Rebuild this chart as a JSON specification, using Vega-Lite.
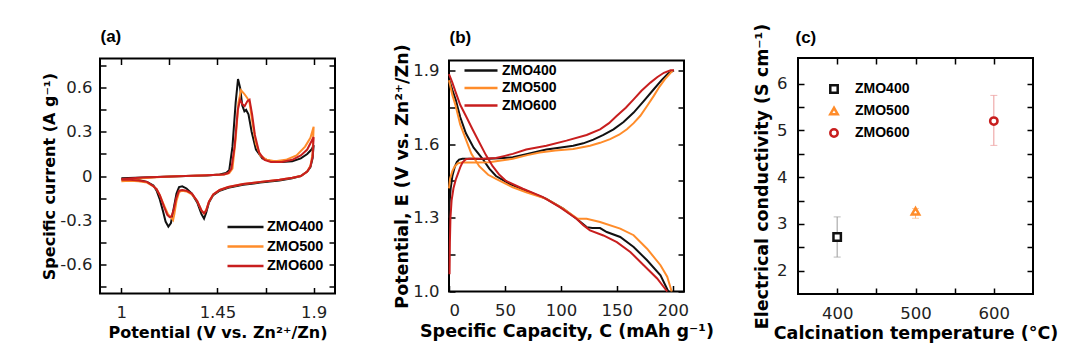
{
  "$schema": "https://vega.github.io/schema/vega-lite/v6.json",
  "padding": {"left": 40, "top": 22, "right": 5, "bottom": 5},
  "background": "white",
  "config": {
    "view": {"stroke": "black", "strokeWidth": 2},
    "axis": {"domain": false, "grid": false, "ticks": true, "tickColor": "black", "tickWidth": 1.5, "tickSize": -6, "labelFont": "DejaVu Sans", "labelFontSize": 16.5, "labelColor": "#222222", "titleFont": "DejaVu Sans", "titleFontSize": 17.5, "titleFontWeight": "bold", "titleColor": "black"},
    "legend": {"labelFont": "Liberation Sans", "labelFontWeight": "bold", "labelColor": "black", "title": null, "padding": 0}
  },
  "resolve": {"scale": {"color": "independent", "shape": "independent"}, "legend": {"color": "independent", "shape": "independent"}},
  "hconcat": [
    {
      "width": 235, "height": 235,
      "data": {"name": "cv"},
      "layer": [
        {
          "mark": {"type": "line", "strokeWidth": 2},
          "encoding": {
            "x": {"field": "x", "type": "quantitative", "scale": {"domain": [0.9, 2.0], "nice": false, "zero": false},
              "axis": {"orient": "bottom", "tickSize": -6, "values": [1, 1.225, 1.45, 1.675, 1.9], "format": ".2~f", "labelExpr": "indexof([1.225,1.675],datum.value)>=0 ? '' : datum.label", "labelPadding": 17, "title": "Potential (V vs. Zn²⁺/Zn)", "titleFontSize": 16, "titlePadding": 3}},
            "y": {"field": "y", "type": "quantitative", "scale": {"domain": [-0.8, 0.8], "nice": false},
              "axis": {"orient": "left", "tickSize": -6, "values": [-0.75, -0.6, -0.45, -0.3, -0.15, 0, 0.15, 0.3, 0.45, 0.6, 0.75], "format": ".1~f", "labelExpr": "indexof([-0.75,-0.45,-0.15,0.15,0.45,0.75],datum.value)>=0 ? '' : replace(datum.label, '−', '-')", "labelPadding": 14, "title": "Specific current (A g⁻¹)", "titleFontSize": 16, "titlePadding": 2}},
            "color": {"field": "s", "type": "nominal", "scale": {"domain": ["ZMO400", "ZMO500", "ZMO600"], "range": ["#111111", "#FF8C2A", "#C81E1E"]},
              "legend": {"orient": "none", "legendX": 138, "legendY": 161, "symbolType": "M-3,0H3", "symbolSize": 144, "symbolStrokeWidth": 2.5, "labelFontSize": 14.5, "labelOffset": 14, "rowPadding": 4.5}},
            "order": {"field": "i", "type": "quantitative"}
          }
        },
        {
          "mark": {"type": "line", "opacity": 0},
          "encoding": {
            "x": {"field": "x", "type": "quantitative", "axis": {"orient": "top", "tickSize": -6, "values": [1, 1.225, 1.45, 1.675, 1.9], "labels": false, "title": "(a)", "titleFont": "Liberation Sans", "titleFontSize": 17, "titleFontWeight": "bold", "titleAnchor": "start", "titleAlign": "left", "titlePadding": 12}},
            "y": {"field": "y", "type": "quantitative", "axis": {"orient": "right", "tickSize": -6, "values": [-0.75, -0.6, -0.45, -0.3, -0.15, 0, 0.15, 0.3, 0.45, 0.6, 0.75], "labels": false, "title": null}},
            "detail": {"field": "s"},
            "order": {"field": "i", "type": "quantitative"}
          }
        }
      ],
      "resolve": {"axis": {"x": "independent", "y": "independent"}}
    },
    {
      "width": 235, "height": 231,
      "data": {"name": "gcd"},
      "layer": [
        {
          "mark": {"type": "line", "strokeWidth": 2},
          "encoding": {
            "x": {"field": "x", "type": "quantitative", "scale": {"domain": [0, 210], "nice": false},
              "axis": {"orient": "bottom", "tickSize": -6, "values": [0, 50, 100, 150, 200], "labelPadding": 17, "title": "Specific Capacity, C (mAh g⁻¹)", "titlePadding": 3}},
            "y": {"field": "y", "type": "quantitative", "scale": {"domain": [1.0, 1.94], "nice": false, "zero": false},
              "axis": {"orient": "left", "tickSize": -6, "values": [1.0, 1.15, 1.3, 1.45, 1.6, 1.75, 1.9], "format": ".1f", "labelExpr": "indexof([1.15,1.45,1.75],datum.value)>=0 ? '' : datum.label", "labelPadding": 16, "title": "Potential, E (V vs. Zn²⁺/Zn)", "titlePadding": 1}},
            "color": {"field": "s", "type": "nominal", "scale": {"domain": ["ZMO400", "ZMO500", "ZMO600"], "range": ["#111111", "#FF8C2A", "#C81E1E"]},
              "legend": {"orient": "none", "legendX": 25, "legendY": 3, "symbolType": "M-3,0H3", "symbolSize": 121, "symbolStrokeWidth": 2.5, "labelFontSize": 14, "labelOffset": 14, "rowPadding": 3.5}},
            "detail": {"field": "g"},
            "order": {"field": "i", "type": "quantitative"}
          }
        },
        {
          "mark": {"type": "line", "opacity": 0},
          "encoding": {
            "x": {"field": "x", "type": "quantitative", "axis": {"orient": "top", "ticks": false, "labels": false, "title": "(b)", "titleFont": "Liberation Sans", "titleFontSize": 17, "titleFontWeight": "bold", "titleAnchor": "start", "titleAlign": "left", "titlePadding": 14}},
            "y": {"field": "y", "type": "quantitative", "axis": {"orient": "right", "tickSize": -6, "values": [1.0, 1.15, 1.3, 1.45, 1.6, 1.75, 1.9], "labels": false, "title": null}},
            "detail": {"field": "s"},
            "order": {"field": "i", "type": "quantitative"}
          }
        }
      ],
      "resolve": {"axis": {"x": "independent", "y": "independent"}}
    },
    {
      "width": 235, "height": 236,
      "data": {"name": "cond"},
      "layer": [
        {
          "transform": [{"filter": "datum.s == 'ZMO400'"}],
          "mark": {"type": "errorbar", "ticks": {"size": 7}, "color": "#9c9c9c", "thickness": 1},
          "encoding": {
            "x": {"field": "t", "type": "quantitative", "scale": {"domain": [350, 650], "nice": false, "zero": false},
              "axis": {"orient": "bottom", "tickSize": -6, "values": [400, 450, 500, 550, 600], "labelExpr": "indexof([450,550],datum.value)>=0 ? '' : datum.label", "labelPadding": 17, "title": "Calcination temperature (°C)", "titlePadding": 3}},
            "y": {"field": "lo", "type": "quantitative", "scale": {"domain": [1.5, 6.55], "nice": false, "zero": false},
              "axis": {"orient": "left", "tickSize": -6, "values": [2, 2.5, 3, 3.5, 4, 4.5, 5, 5.5, 6], "format": "~g", "labelExpr": "indexof([2.5,3.5,4.5,5.5],datum.value)>=0 ? '' : datum.label", "labelPadding": 17, "title": "Electrical conductivity (S cm⁻¹)", "titlePadding": 5}},
            "y2": {"field": "hi"}
          }
        },
        {
          "transform": [{"filter": "datum.s == 'ZMO500'"}],
          "mark": {"type": "errorbar", "ticks": {"size": 7}, "color": "#FDB985", "thickness": 1},
          "encoding": {
            "x": {"field": "t", "type": "quantitative", "axis": null},
            "y": {"field": "lo", "type": "quantitative", "axis": null},
            "y2": {"field": "hi"}
          }
        },
        {
          "transform": [{"filter": "datum.s == 'ZMO600'"}],
          "mark": {"type": "errorbar", "ticks": {"size": 7}, "color": "#EC9A9A", "thickness": 1},
          "encoding": {
            "x": {"field": "t", "type": "quantitative", "axis": null},
            "y": {"field": "lo", "type": "quantitative", "axis": null},
            "y2": {"field": "hi"}
          }
        },
        {
          "mark": {"type": "point", "filled": false, "fill": "white", "fillOpacity": 1, "strokeWidth": 2.5, "size": 55, "opacity": 1},
          "encoding": {
            "x": {"field": "t", "type": "quantitative", "axis": {"orient": "top", "tickSize": -6, "values": [400, 450, 500, 550, 600], "labels": false, "title": "(c)", "titleFont": "Liberation Sans", "titleFontSize": 17, "titleFontWeight": "bold", "titleAnchor": "start", "titleAlign": "left", "titlePadding": 11, "titleX": -3}},
            "y": {"field": "v", "type": "quantitative", "axis": {"orient": "right", "tickSize": -6, "values": [2, 2.5, 3, 3.5, 4, 4.5, 5, 5.5, 6], "labels": false, "title": null}},
            "color": {"field": "s", "type": "nominal", "scale": {"domain": ["ZMO400", "ZMO500", "ZMO600"], "range": ["#111111", "#FF8C2A", "#C81E1E"]}, "legend": {"orient": "none", "legendX": 29, "legendY": 24, "symbolSize": 55, "symbolStrokeWidth": 2.5, "labelFontSize": 14, "labelOffset": 14, "rowPadding": 4}},
            "shape": {"field": "s", "type": "nominal", "scale": {"domain": ["ZMO400", "ZMO500", "ZMO600"], "range": ["square", "triangle-up", "circle"]}, "legend": {"orient": "none", "legendX": 29, "legendY": 24, "symbolSize": 55, "symbolStrokeWidth": 2.5, "labelFontSize": 14, "labelOffset": 14, "rowPadding": 4}}
          }
        }
      ],
      "resolve": {"axis": {"x": "independent", "y": "independent"}}
    }
  ],
  "spacing": 114,
  "bounds": "flush",
  "center": true,
  "datasets": {
    "cond": [
      {"s": "ZMO400", "t": 400, "v": 2.72, "lo": 2.29, "hi": 3.15},
      {"s": "ZMO500", "t": 500, "v": 3.27, "lo": 3.12, "hi": 3.33},
      {"s": "ZMO600", "t": 600, "v": 5.2, "lo": 4.68, "hi": 5.75}
    ],
    "cv": [
      {"s":"ZMO400","i":0,"x":1.0,"y":-0.015},{"s":"ZMO400","i":1,"x":1.1,"y":-0.01},{"s":"ZMO400","i":2,"x":1.2,"y":-0.005},{"s":"ZMO400","i":3,"x":1.3,"y":0.0},{"s":"ZMO400","i":4,"x":1.4,"y":0.004},{"s":"ZMO400","i":5,"x":1.46,"y":0.01},{"s":"ZMO400","i":6,"x":1.49,"y":0.02},{"s":"ZMO400","i":7,"x":1.505,"y":0.04},{"s":"ZMO400","i":8,"x":1.52,"y":0.2},{"s":"ZMO400","i":9,"x":1.535,"y":0.5},{"s":"ZMO400","i":10,"x":1.546,"y":0.66},{"s":"ZMO400","i":11,"x":1.556,"y":0.6},{"s":"ZMO400","i":12,"x":1.566,"y":0.48},{"s":"ZMO400","i":13,"x":1.576,"y":0.44},{"s":"ZMO400","i":14,"x":1.584,"y":0.45},{"s":"ZMO400","i":15,"x":1.595,"y":0.42},{"s":"ZMO400","i":16,"x":1.61,"y":0.3},{"s":"ZMO400","i":17,"x":1.63,"y":0.18},{"s":"ZMO400","i":18,"x":1.66,"y":0.12},{"s":"ZMO400","i":19,"x":1.7,"y":0.1},{"s":"ZMO400","i":20,"x":1.75,"y":0.095},{"s":"ZMO400","i":21,"x":1.8,"y":0.1},{"s":"ZMO400","i":22,"x":1.84,"y":0.12},{"s":"ZMO400","i":23,"x":1.87,"y":0.15},{"s":"ZMO400","i":24,"x":1.89,"y":0.18},{"s":"ZMO400","i":25,"x":1.9,"y":0.21},
      {"s":"ZMO400","i":26,"x":1.895,"y":0.12},{"s":"ZMO400","i":27,"x":1.885,"y":0.06},{"s":"ZMO400","i":28,"x":1.87,"y":0.03},{"s":"ZMO400","i":29,"x":1.84,"y":0.0},{"s":"ZMO400","i":30,"x":1.8,"y":-0.015},{"s":"ZMO400","i":31,"x":1.74,"y":-0.03},{"s":"ZMO400","i":32,"x":1.65,"y":-0.045},{"s":"ZMO400","i":33,"x":1.57,"y":-0.06},{"s":"ZMO400","i":34,"x":1.5,"y":-0.08},{"s":"ZMO400","i":35,"x":1.46,"y":-0.1},{"s":"ZMO400","i":36,"x":1.43,"y":-0.13},{"s":"ZMO400","i":37,"x":1.41,"y":-0.18},{"s":"ZMO400","i":38,"x":1.397,"y":-0.25},{"s":"ZMO400","i":39,"x":1.387,"y":-0.29},{"s":"ZMO400","i":40,"x":1.375,"y":-0.26},{"s":"ZMO400","i":41,"x":1.355,"y":-0.18},{"s":"ZMO400","i":42,"x":1.33,"y":-0.12},{"s":"ZMO400","i":43,"x":1.305,"y":-0.085},{"s":"ZMO400","i":44,"x":1.285,"y":-0.07},{"s":"ZMO400","i":45,"x":1.27,"y":-0.075},{"s":"ZMO400","i":46,"x":1.258,"y":-0.12},{"s":"ZMO400","i":47,"x":1.245,"y":-0.22},{"s":"ZMO400","i":48,"x":1.232,"y":-0.32},{"s":"ZMO400","i":49,"x":1.22,"y":-0.345},{"s":"ZMO400","i":50,"x":1.207,"y":-0.31},{"s":"ZMO400","i":51,"x":1.195,"y":-0.24},{"s":"ZMO400","i":52,"x":1.18,"y":-0.16},{"s":"ZMO400","i":53,"x":1.165,"y":-0.1},{"s":"ZMO400","i":54,"x":1.15,"y":-0.065},{"s":"ZMO400","i":55,"x":1.12,"y":-0.04},{"s":"ZMO400","i":56,"x":1.08,"y":-0.028},{"s":"ZMO400","i":57,"x":1.04,"y":-0.022},{"s":"ZMO400","i":58,"x":1.0,"y":-0.02},
      {"s":"ZMO500","i":0,"x":1.0,"y":-0.03},{"s":"ZMO500","i":1,"x":1.1,"y":-0.015},{"s":"ZMO500","i":2,"x":1.2,"y":-0.005},{"s":"ZMO500","i":3,"x":1.3,"y":0.0},{"s":"ZMO500","i":4,"x":1.4,"y":0.005},{"s":"ZMO500","i":5,"x":1.48,"y":0.01},{"s":"ZMO500","i":6,"x":1.505,"y":0.02},{"s":"ZMO500","i":7,"x":1.52,"y":0.05},{"s":"ZMO500","i":8,"x":1.535,"y":0.25},{"s":"ZMO500","i":9,"x":1.548,"y":0.5},{"s":"ZMO500","i":10,"x":1.56,"y":0.585},{"s":"ZMO500","i":11,"x":1.575,"y":0.56},{"s":"ZMO500","i":12,"x":1.59,"y":0.53},{"s":"ZMO500","i":13,"x":1.6,"y":0.5},{"s":"ZMO500","i":14,"x":1.615,"y":0.35},{"s":"ZMO500","i":15,"x":1.63,"y":0.22},{"s":"ZMO500","i":16,"x":1.65,"y":0.14},{"s":"ZMO500","i":17,"x":1.68,"y":0.11},{"s":"ZMO500","i":18,"x":1.72,"y":0.1},{"s":"ZMO500","i":19,"x":1.77,"y":0.11},{"s":"ZMO500","i":20,"x":1.82,"y":0.14},{"s":"ZMO500","i":21,"x":1.86,"y":0.2},{"s":"ZMO500","i":22,"x":1.885,"y":0.26},{"s":"ZMO500","i":23,"x":1.9,"y":0.335},
      {"s":"ZMO500","i":24,"x":1.895,"y":0.15},{"s":"ZMO500","i":25,"x":1.885,"y":0.07},{"s":"ZMO500","i":26,"x":1.87,"y":0.03},{"s":"ZMO500","i":27,"x":1.84,"y":0.0},{"s":"ZMO500","i":28,"x":1.8,"y":-0.012},{"s":"ZMO500","i":29,"x":1.74,"y":-0.025},{"s":"ZMO500","i":30,"x":1.65,"y":-0.04},{"s":"ZMO500","i":31,"x":1.57,"y":-0.055},{"s":"ZMO500","i":32,"x":1.5,"y":-0.075},{"s":"ZMO500","i":33,"x":1.46,"y":-0.095},{"s":"ZMO500","i":34,"x":1.43,"y":-0.125},{"s":"ZMO500","i":35,"x":1.41,"y":-0.175},{"s":"ZMO500","i":36,"x":1.397,"y":-0.23},{"s":"ZMO500","i":37,"x":1.387,"y":-0.255},{"s":"ZMO500","i":38,"x":1.375,"y":-0.235},{"s":"ZMO500","i":39,"x":1.355,"y":-0.17},{"s":"ZMO500","i":40,"x":1.33,"y":-0.125},{"s":"ZMO500","i":41,"x":1.305,"y":-0.105},{"s":"ZMO500","i":42,"x":1.285,"y":-0.1},{"s":"ZMO500","i":43,"x":1.27,"y":-0.11},{"s":"ZMO500","i":44,"x":1.258,"y":-0.17},{"s":"ZMO500","i":45,"x":1.248,"y":-0.26},{"s":"ZMO500","i":46,"x":1.242,"y":-0.3},{"s":"ZMO500","i":47,"x":1.232,"y":-0.28},{"s":"ZMO500","i":48,"x":1.218,"y":-0.26},{"s":"ZMO500","i":49,"x":1.2,"y":-0.2},{"s":"ZMO500","i":50,"x":1.18,"y":-0.13},{"s":"ZMO500","i":51,"x":1.165,"y":-0.09},{"s":"ZMO500","i":52,"x":1.15,"y":-0.07},{"s":"ZMO500","i":53,"x":1.12,"y":-0.045},{"s":"ZMO500","i":54,"x":1.08,"y":-0.035},{"s":"ZMO500","i":55,"x":1.04,"y":-0.032},{"s":"ZMO500","i":56,"x":1.0,"y":-0.035},
      {"s":"ZMO600","i":0,"x":1.0,"y":-0.02},{"s":"ZMO600","i":1,"x":1.1,"y":-0.01},{"s":"ZMO600","i":2,"x":1.2,"y":-0.005},{"s":"ZMO600","i":3,"x":1.3,"y":0.0},{"s":"ZMO600","i":4,"x":1.4,"y":0.005},{"s":"ZMO600","i":5,"x":1.48,"y":0.01},{"s":"ZMO600","i":6,"x":1.5,"y":0.02},{"s":"ZMO600","i":7,"x":1.515,"y":0.05},{"s":"ZMO600","i":8,"x":1.53,"y":0.2},{"s":"ZMO600","i":9,"x":1.545,"y":0.45},{"s":"ZMO600","i":10,"x":1.556,"y":0.52},{"s":"ZMO600","i":11,"x":1.566,"y":0.49},{"s":"ZMO600","i":12,"x":1.577,"y":0.475},{"s":"ZMO600","i":13,"x":1.59,"y":0.51},{"s":"ZMO600","i":14,"x":1.6,"y":0.52},{"s":"ZMO600","i":15,"x":1.612,"y":0.42},{"s":"ZMO600","i":16,"x":1.625,"y":0.28},{"s":"ZMO600","i":17,"x":1.645,"y":0.16},{"s":"ZMO600","i":18,"x":1.67,"y":0.11},{"s":"ZMO600","i":19,"x":1.7,"y":0.095},{"s":"ZMO600","i":20,"x":1.75,"y":0.095},{"s":"ZMO600","i":21,"x":1.8,"y":0.11},{"s":"ZMO600","i":22,"x":1.84,"y":0.14},{"s":"ZMO600","i":23,"x":1.87,"y":0.18},{"s":"ZMO600","i":24,"x":1.9,"y":0.265},
      {"s":"ZMO600","i":25,"x":1.895,"y":0.13},{"s":"ZMO600","i":26,"x":1.885,"y":0.065},{"s":"ZMO600","i":27,"x":1.87,"y":0.03},{"s":"ZMO600","i":28,"x":1.84,"y":0.0},{"s":"ZMO600","i":29,"x":1.8,"y":-0.012},{"s":"ZMO600","i":30,"x":1.74,"y":-0.025},{"s":"ZMO600","i":31,"x":1.65,"y":-0.04},{"s":"ZMO600","i":32,"x":1.57,"y":-0.055},{"s":"ZMO600","i":33,"x":1.5,"y":-0.075},{"s":"ZMO600","i":34,"x":1.46,"y":-0.095},{"s":"ZMO600","i":35,"x":1.43,"y":-0.125},{"s":"ZMO600","i":36,"x":1.41,"y":-0.175},{"s":"ZMO600","i":37,"x":1.397,"y":-0.235},{"s":"ZMO600","i":38,"x":1.387,"y":-0.255},{"s":"ZMO600","i":39,"x":1.375,"y":-0.235},{"s":"ZMO600","i":40,"x":1.355,"y":-0.17},{"s":"ZMO600","i":41,"x":1.33,"y":-0.12},{"s":"ZMO600","i":42,"x":1.305,"y":-0.1},{"s":"ZMO600","i":43,"x":1.285,"y":-0.095},{"s":"ZMO600","i":44,"x":1.27,"y":-0.1},{"s":"ZMO600","i":45,"x":1.257,"y":-0.15},{"s":"ZMO600","i":46,"x":1.245,"y":-0.23},{"s":"ZMO600","i":47,"x":1.235,"y":-0.275},{"s":"ZMO600","i":48,"x":1.226,"y":-0.28},{"s":"ZMO600","i":49,"x":1.215,"y":-0.265},{"s":"ZMO600","i":50,"x":1.2,"y":-0.21},{"s":"ZMO600","i":51,"x":1.18,"y":-0.13},{"s":"ZMO600","i":52,"x":1.165,"y":-0.09},{"s":"ZMO600","i":53,"x":1.15,"y":-0.07},{"s":"ZMO600","i":54,"x":1.12,"y":-0.04},{"s":"ZMO600","i":55,"x":1.08,"y":-0.03},{"s":"ZMO600","i":56,"x":1.04,"y":-0.025},{"s":"ZMO600","i":57,"x":1.0,"y":-0.025}
    ],
    "gcd": [
      {"s":"ZMO400","g":"c","i":0,"x":0,"y":1.3},{"s":"ZMO400","g":"c","i":1,"x":0.5,"y":1.36},{"s":"ZMO400","g":"c","i":2,"x":1.5,"y":1.42},{"s":"ZMO400","g":"c","i":3,"x":3,"y":1.47},{"s":"ZMO400","g":"c","i":4,"x":5,"y":1.505},{"s":"ZMO400","g":"c","i":5,"x":7,"y":1.527},{"s":"ZMO400","g":"c","i":6,"x":9,"y":1.537},{"s":"ZMO400","g":"c","i":7,"x":12,"y":1.54},{"s":"ZMO400","g":"c","i":8,"x":20,"y":1.54},{"s":"ZMO400","g":"c","i":9,"x":30,"y":1.539},{"s":"ZMO400","g":"c","i":10,"x":45,"y":1.542},{"s":"ZMO400","g":"c","i":11,"x":57,"y":1.546},{"s":"ZMO400","g":"c","i":12,"x":70,"y":1.56},{"s":"ZMO400","g":"c","i":13,"x":87,"y":1.578},{"s":"ZMO400","g":"c","i":14,"x":100,"y":1.586},{"s":"ZMO400","g":"c","i":15,"x":111,"y":1.593},{"s":"ZMO400","g":"c","i":16,"x":120,"y":1.603},{"s":"ZMO400","g":"c","i":17,"x":129,"y":1.618},{"s":"ZMO400","g":"c","i":18,"x":138,"y":1.637},{"s":"ZMO400","g":"c","i":19,"x":147,"y":1.66},{"s":"ZMO400","g":"c","i":20,"x":156,"y":1.69},{"s":"ZMO400","g":"c","i":21,"x":165,"y":1.728},{"s":"ZMO400","g":"c","i":22,"x":174,"y":1.775},{"s":"ZMO400","g":"c","i":23,"x":183,"y":1.823},{"s":"ZMO400","g":"c","i":24,"x":190,"y":1.86},{"s":"ZMO400","g":"c","i":25,"x":196,"y":1.888},{"s":"ZMO400","g":"c","i":26,"x":201,"y":1.9},
      {"s":"ZMO400","g":"d","i":0,"x":0,"y":1.865},{"s":"ZMO400","g":"d","i":1,"x":3,"y":1.82},{"s":"ZMO400","g":"d","i":2,"x":6,"y":1.78},{"s":"ZMO400","g":"d","i":3,"x":10,"y":1.71},{"s":"ZMO400","g":"d","i":4,"x":15,"y":1.645},{"s":"ZMO400","g":"d","i":5,"x":22,"y":1.585},{"s":"ZMO400","g":"d","i":6,"x":30,"y":1.54},{"s":"ZMO400","g":"d","i":7,"x":36,"y":1.5},{"s":"ZMO400","g":"d","i":8,"x":42,"y":1.47},{"s":"ZMO400","g":"d","i":9,"x":54,"y":1.438},{"s":"ZMO400","g":"d","i":10,"x":69,"y":1.41},{"s":"ZMO400","g":"d","i":11,"x":87,"y":1.377},{"s":"ZMO400","g":"d","i":12,"x":102,"y":1.337},{"s":"ZMO400","g":"d","i":13,"x":114,"y":1.296},{"s":"ZMO400","g":"d","i":14,"x":123,"y":1.262},{"s":"ZMO400","g":"d","i":15,"x":128,"y":1.258},{"s":"ZMO400","g":"d","i":16,"x":135,"y":1.258},{"s":"ZMO400","g":"d","i":17,"x":141,"y":1.242},{"s":"ZMO400","g":"d","i":18,"x":153,"y":1.222},{"s":"ZMO400","g":"d","i":19,"x":165,"y":1.181},{"s":"ZMO400","g":"d","i":20,"x":177,"y":1.127},{"s":"ZMO400","g":"d","i":21,"x":189,"y":1.066},{"s":"ZMO400","g":"d","i":22,"x":196,"y":1.0},
      {"s":"ZMO500","g":"c","i":0,"x":0,"y":1.42},{"s":"ZMO500","g":"c","i":1,"x":1,"y":1.46},{"s":"ZMO500","g":"c","i":2,"x":3,"y":1.49},{"s":"ZMO500","g":"c","i":3,"x":5,"y":1.508},{"s":"ZMO500","g":"c","i":4,"x":8,"y":1.522},{"s":"ZMO500","g":"c","i":5,"x":12,"y":1.525},{"s":"ZMO500","g":"c","i":6,"x":25,"y":1.525},{"s":"ZMO500","g":"c","i":7,"x":36,"y":1.526},{"s":"ZMO500","g":"c","i":8,"x":45,"y":1.532},{"s":"ZMO500","g":"c","i":9,"x":57,"y":1.54},{"s":"ZMO500","g":"c","i":10,"x":70,"y":1.555},{"s":"ZMO500","g":"c","i":11,"x":81,"y":1.566},{"s":"ZMO500","g":"c","i":12,"x":95,"y":1.574},{"s":"ZMO500","g":"c","i":13,"x":111,"y":1.58},{"s":"ZMO500","g":"c","i":14,"x":126,"y":1.593},{"s":"ZMO500","g":"c","i":15,"x":135,"y":1.605},{"s":"ZMO500","g":"c","i":16,"x":144,"y":1.62},{"s":"ZMO500","g":"c","i":17,"x":152,"y":1.638},{"s":"ZMO500","g":"c","i":18,"x":159,"y":1.66},{"s":"ZMO500","g":"c","i":19,"x":165,"y":1.685},{"s":"ZMO500","g":"c","i":20,"x":171,"y":1.715},{"s":"ZMO500","g":"c","i":21,"x":177,"y":1.755},{"s":"ZMO500","g":"c","i":22,"x":183,"y":1.796},{"s":"ZMO500","g":"c","i":23,"x":188,"y":1.833},{"s":"ZMO500","g":"c","i":24,"x":193,"y":1.864},{"s":"ZMO500","g":"c","i":25,"x":200,"y":1.9},
      {"s":"ZMO500","g":"d","i":0,"x":0,"y":1.86},{"s":"ZMO500","g":"d","i":1,"x":3,"y":1.8},{"s":"ZMO500","g":"d","i":2,"x":6,"y":1.755},{"s":"ZMO500","g":"d","i":3,"x":10,"y":1.68},{"s":"ZMO500","g":"d","i":4,"x":15,"y":1.62},{"s":"ZMO500","g":"d","i":5,"x":20,"y":1.56},{"s":"ZMO500","g":"d","i":6,"x":27,"y":1.51},{"s":"ZMO500","g":"d","i":7,"x":35,"y":1.475},{"s":"ZMO500","g":"d","i":8,"x":42,"y":1.458},{"s":"ZMO500","g":"d","i":9,"x":57,"y":1.424},{"s":"ZMO500","g":"d","i":10,"x":69,"y":1.404},{"s":"ZMO500","g":"d","i":11,"x":87,"y":1.377},{"s":"ZMO500","g":"d","i":12,"x":102,"y":1.337},{"s":"ZMO500","g":"d","i":13,"x":115,"y":1.296},{"s":"ZMO500","g":"d","i":14,"x":123,"y":1.296},{"s":"ZMO500","g":"d","i":15,"x":135,"y":1.283},{"s":"ZMO500","g":"d","i":16,"x":153,"y":1.256},{"s":"ZMO500","g":"d","i":17,"x":165,"y":1.229},{"s":"ZMO500","g":"d","i":18,"x":177,"y":1.174},{"s":"ZMO500","g":"d","i":19,"x":189,"y":1.107},{"s":"ZMO500","g":"d","i":20,"x":195,"y":1.06},{"s":"ZMO500","g":"d","i":21,"x":199,"y":1.0},
      {"s":"ZMO600","g":"c","i":0,"x":0.5,"y":1.07},{"s":"ZMO600","g":"c","i":1,"x":0.8,"y":1.2},{"s":"ZMO600","g":"c","i":2,"x":1.3,"y":1.3},{"s":"ZMO600","g":"c","i":3,"x":2.3,"y":1.37},{"s":"ZMO600","g":"c","i":4,"x":4,"y":1.42},{"s":"ZMO600","g":"c","i":5,"x":6,"y":1.455},{"s":"ZMO600","g":"c","i":6,"x":8,"y":1.48},{"s":"ZMO600","g":"c","i":7,"x":10,"y":1.505},{"s":"ZMO600","g":"c","i":8,"x":12,"y":1.525},{"s":"ZMO600","g":"c","i":9,"x":15,"y":1.538},{"s":"ZMO600","g":"c","i":10,"x":18,"y":1.54},{"s":"ZMO600","g":"c","i":11,"x":30,"y":1.54},{"s":"ZMO600","g":"c","i":12,"x":42,"y":1.543},{"s":"ZMO600","g":"c","i":13,"x":50,"y":1.552},{"s":"ZMO600","g":"c","i":14,"x":57,"y":1.56},{"s":"ZMO600","g":"c","i":15,"x":69,"y":1.578},{"s":"ZMO600","g":"c","i":16,"x":87,"y":1.593},{"s":"ZMO600","g":"c","i":17,"x":105,"y":1.614},{"s":"ZMO600","g":"c","i":18,"x":123,"y":1.637},{"s":"ZMO600","g":"c","i":19,"x":135,"y":1.66},{"s":"ZMO600","g":"c","i":20,"x":143,"y":1.685},{"s":"ZMO600","g":"c","i":21,"x":150,"y":1.715},{"s":"ZMO600","g":"c","i":22,"x":158,"y":1.748},{"s":"ZMO600","g":"c","i":23,"x":165,"y":1.782},{"s":"ZMO600","g":"c","i":24,"x":172,"y":1.817},{"s":"ZMO600","g":"c","i":25,"x":180,"y":1.85},{"s":"ZMO600","g":"c","i":26,"x":186,"y":1.872},{"s":"ZMO600","g":"c","i":27,"x":192,"y":1.89},{"s":"ZMO600","g":"c","i":28,"x":198,"y":1.9},{"s":"ZMO600","g":"c","i":29,"x":201,"y":1.9},
      {"s":"ZMO600","g":"d","i":0,"x":0,"y":1.885},{"s":"ZMO600","g":"d","i":1,"x":3,"y":1.85},{"s":"ZMO600","g":"d","i":2,"x":6,"y":1.81},{"s":"ZMO600","g":"d","i":3,"x":10,"y":1.76},{"s":"ZMO600","g":"d","i":4,"x":15,"y":1.715},{"s":"ZMO600","g":"d","i":5,"x":21,"y":1.66},{"s":"ZMO600","g":"d","i":6,"x":27,"y":1.607},{"s":"ZMO600","g":"d","i":7,"x":33,"y":1.555},{"s":"ZMO600","g":"d","i":8,"x":39,"y":1.51},{"s":"ZMO600","g":"d","i":9,"x":45,"y":1.475},{"s":"ZMO600","g":"d","i":10,"x":51,"y":1.45},{"s":"ZMO600","g":"d","i":11,"x":66,"y":1.418},{"s":"ZMO600","g":"d","i":12,"x":84,"y":1.384},{"s":"ZMO600","g":"d","i":13,"x":99,"y":1.343},{"s":"ZMO600","g":"d","i":14,"x":114,"y":1.296},{"s":"ZMO600","g":"d","i":15,"x":120,"y":1.27},{"s":"ZMO600","g":"d","i":16,"x":126,"y":1.249},{"s":"ZMO600","g":"d","i":17,"x":138,"y":1.228},{"s":"ZMO600","g":"d","i":18,"x":150,"y":1.201},{"s":"ZMO600","g":"d","i":19,"x":162,"y":1.161},{"s":"ZMO600","g":"d","i":20,"x":174,"y":1.107},{"s":"ZMO600","g":"d","i":21,"x":186,"y":1.053},{"s":"ZMO600","g":"d","i":22,"x":195,"y":1.0}
    ]
  }
}
